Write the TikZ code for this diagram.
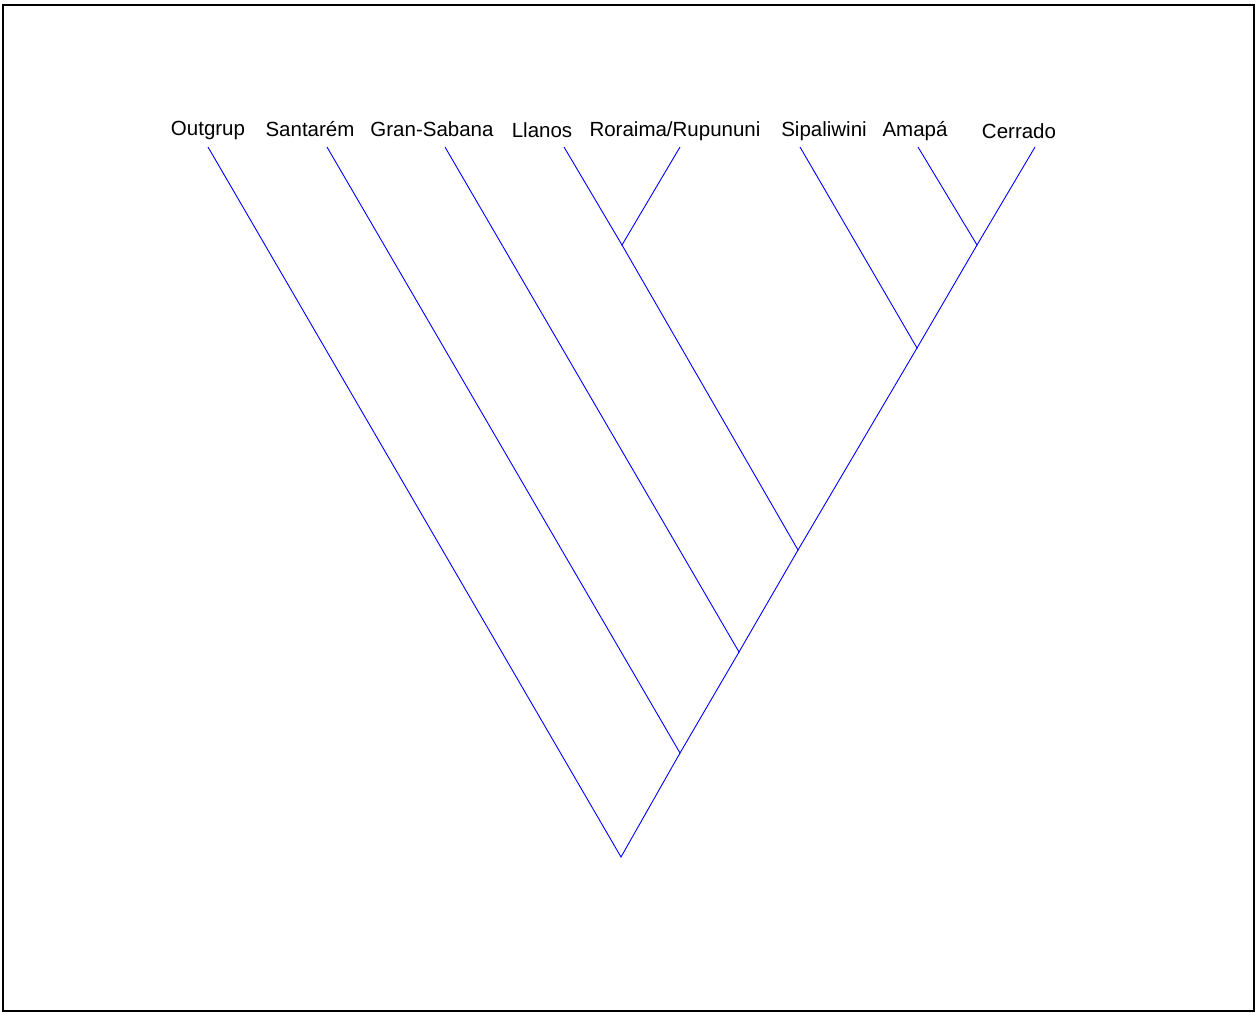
\documentclass[tikz,border=0pt]{standalone}
\usepackage{fontspec}
\setmainfont{Liberation Sans}
\usetikzlibrary{positioning}
\tikzset{branch/.style={blue, line width=0.9pt},
         taxon/.style={font=\fontsize{20.5}{24}\selectfont, inner sep=0pt, anchor=base}}

\begin{document}
\begin{tikzpicture}[x=1pt,y=-1pt]
                    \useasboundingbox (0,0) rectangle (1257,1013);
                    \draw[line width=2pt] (3,5) rectangle (1254,1011);
                    \node[taxon] (outgrup) at (208,135.5) {Outgrup};
                    \node[taxon] (santarem) at (310,136) {Santarém};
                    \node[taxon] (gransabana) at (432,136) {Gran-Sabana};
                    \node[taxon] (llanos) at (542,137.3) {Llanos};
                    \node[taxon] (roraima) at (675,136.7) {Roraima/Rupununi};
                    \node[taxon] (sipaliwini) at (824,136.7) {Sipaliwini};
                    \node[taxon] (amapa) at (915,136.7) {Amapá};
                    \node[taxon] (cerrado) at (1019,138.3) {Cerrado};
                    \coordinate (tOut) at (208,147);
                    \coordinate (tSan) at (327,147);
                    \coordinate (tGra) at (445,147);
                    \coordinate (tLla) at (564,147);
                    \coordinate (tRor) at (680,147);
                    \coordinate (tSip) at (800,147);
                    \coordinate (tAma) at (918,147);
                    \coordinate (tCer) at (1035,147);
                    \coordinate (jLR) at (622,245);
                    \coordinate (jAC) at (977,245);
                    \coordinate (jSAC) at (917,348);
                    \coordinate (jLRSAC) at (798,550);
                    \coordinate (jGra) at (739,652);
                    \coordinate (jSan) at (680,753);
                    \coordinate (root) at (621,857);
                    \draw[branch] (tLla) -- (jLR) -- (tRor);
                    \draw[branch] (tAma) -- (jAC) -- (tCer);
                    \draw[branch] (tSip) -- (jSAC) -- (jAC);
                    \draw[branch] (jLR) -- (jLRSAC) -- (jSAC);
                    \draw[branch] (tGra) -- (jGra) -- (jLRSAC);
                    \draw[branch] (tSan) -- (jSan) -- (jGra);
                    \draw[branch] (tOut) -- (root) -- (jSan);
                \end{tikzpicture}
\end{document}
